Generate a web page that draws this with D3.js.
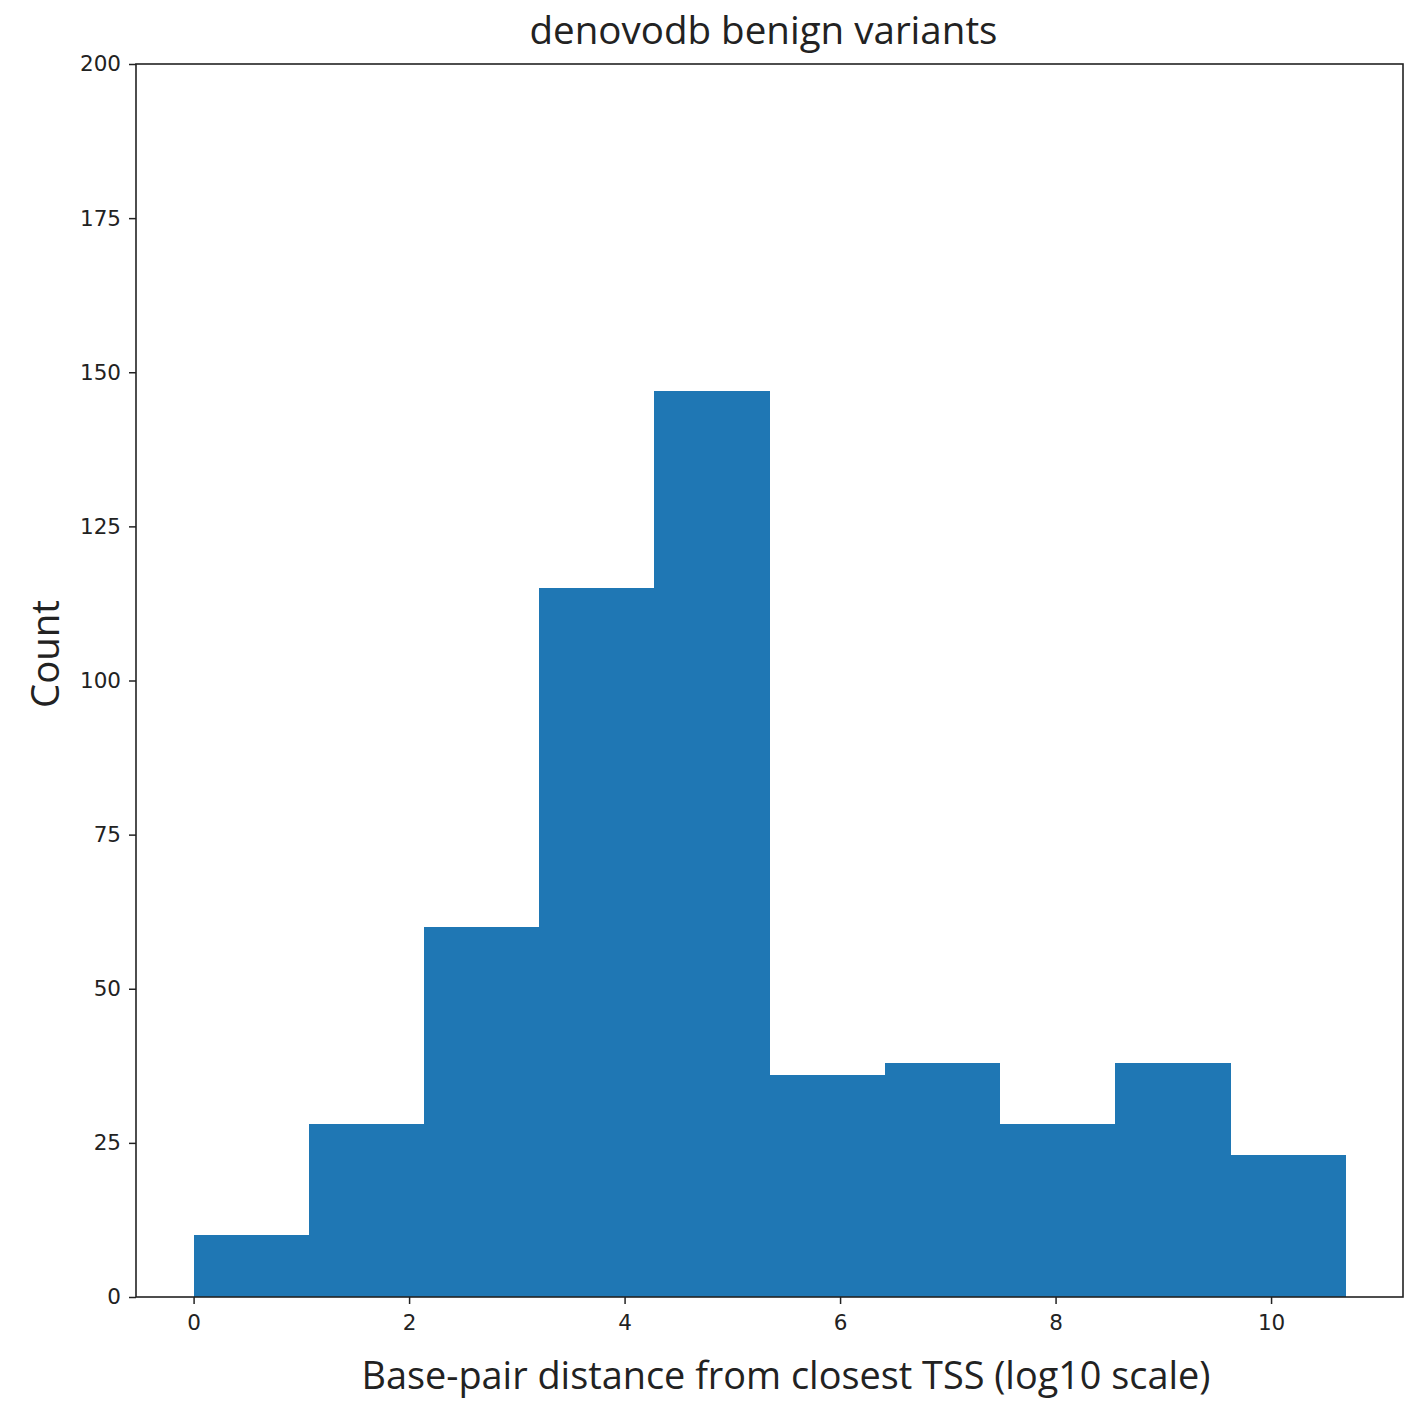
<!DOCTYPE html>
<html>
<head>
<meta charset="utf-8">
<script src="https://cdn.jsdelivr.net/npm/d3@7/dist/d3.min.js"></script>
<style>
  html, body { margin: 0; padding: 0; background: #fff; }
  svg { display: block; }
</style>
</head>
<body>
<script>
// Histogram of log10 distance to closest TSS: 10 equal-width bins over [0, binMax]
const binMax = 10.69;
const counts = [10, 28, 60, 115, 147, 36, 38, 28, 38, 23];
const xTicks = [0, 2, 4, 6, 8, 10];
const yTicks = [0, 25, 50, 75, 100, 125, 150, 175, 200];
const title = "denovodb benign variants";
const xLabel = "Base-pair distance from closest TSS (log10 scale)";
const yLabel = "Count";

const W = 1424, H = 1402;
const plot = { left: 136, right: 1403, top: 64, bottom: 1297 };

const svg = d3.select("body").append("svg").attr("width", W).attr("height", H);

const pad = binMax * 0.05;
const x = d3.scaleLinear().domain([-pad, binMax + pad]).range([plot.left, plot.right]);
const y = d3.scaleLinear().domain([0, 200]).range([plot.bottom, plot.top]);

const binW = binMax / counts.length;
const bins = counts.map((c, i) => ({ x0: i * binW, x1: (i + 1) * binW, c }));

svg.append("g").attr("shape-rendering", "crispEdges")
  .selectAll("rect").data(bins).join("rect")
  .attr("x", d => x(d.x0))
  .attr("width", d => x(d.x1) - x(d.x0) + 0.6)
  .attr("y", d => y(d.c))
  .attr("height", d => y(0) - y(d.c))
  .attr("fill", "#1f77b4");

const tickFont = "'DejaVu Sans', sans-serif";

const gx = svg.append("g").attr("transform", `translate(0,${plot.bottom})`)
  .call(d3.axisBottom(x).tickValues(xTicks).tickFormat(d3.format("d")).tickSizeOuter(0).tickSize(7).tickPadding(8));
const gy = svg.append("g").attr("transform", `translate(${plot.left},0)`)
  .call(d3.axisLeft(y).tickValues(yTicks).tickFormat(d3.format("d")).tickSizeOuter(0).tickSize(7).tickPadding(8));

[gx, gy].forEach(g => {
  g.select(".domain").remove();
  g.selectAll(".tick line").attr("stroke", "#222").attr("stroke-width", 1.5);
  g.selectAll(".tick text").attr("fill", "#222").style("font-family", tickFont).style("font-size", "21.5px");
});
gx.selectAll(".tick text").attr("dy", "0.85em");

// frame
svg.append("rect")
  .attr("x", plot.left).attr("y", plot.top)
  .attr("width", plot.right - plot.left).attr("height", plot.bottom - plot.top)
  .attr("fill", "none").attr("stroke", "#222").attr("stroke-width", 1.6);

const labelFont = "'Open Sans', 'Noto Sans', sans-serif";

svg.append("text")
  .attr("x", (plot.left + plot.right) / 2 - 6).attr("y", 44)
  .attr("text-anchor", "middle")
  .attr("textLength", 468).attr("lengthAdjust", "spacingAndGlyphs")
  .style("font-family", labelFont).style("font-size", "38px").attr("fill", "#222")
  .text(title);

svg.append("text")
  .attr("x", 786).attr("y", 1389)
  .attr("text-anchor", "middle")
  .attr("textLength", 849).attr("lengthAdjust", "spacingAndGlyphs")
  .style("font-family", labelFont).style("font-size", "38px").attr("fill", "#222")
  .text(xLabel);

svg.append("text")
  .attr("transform", `translate(59,654) rotate(-90)`)
  .attr("text-anchor", "middle")
  .attr("textLength", 108).attr("lengthAdjust", "spacingAndGlyphs")
  .style("font-family", labelFont).style("font-size", "38px").attr("fill", "#222")
  .text(yLabel);
</script>
</body>
</html>
